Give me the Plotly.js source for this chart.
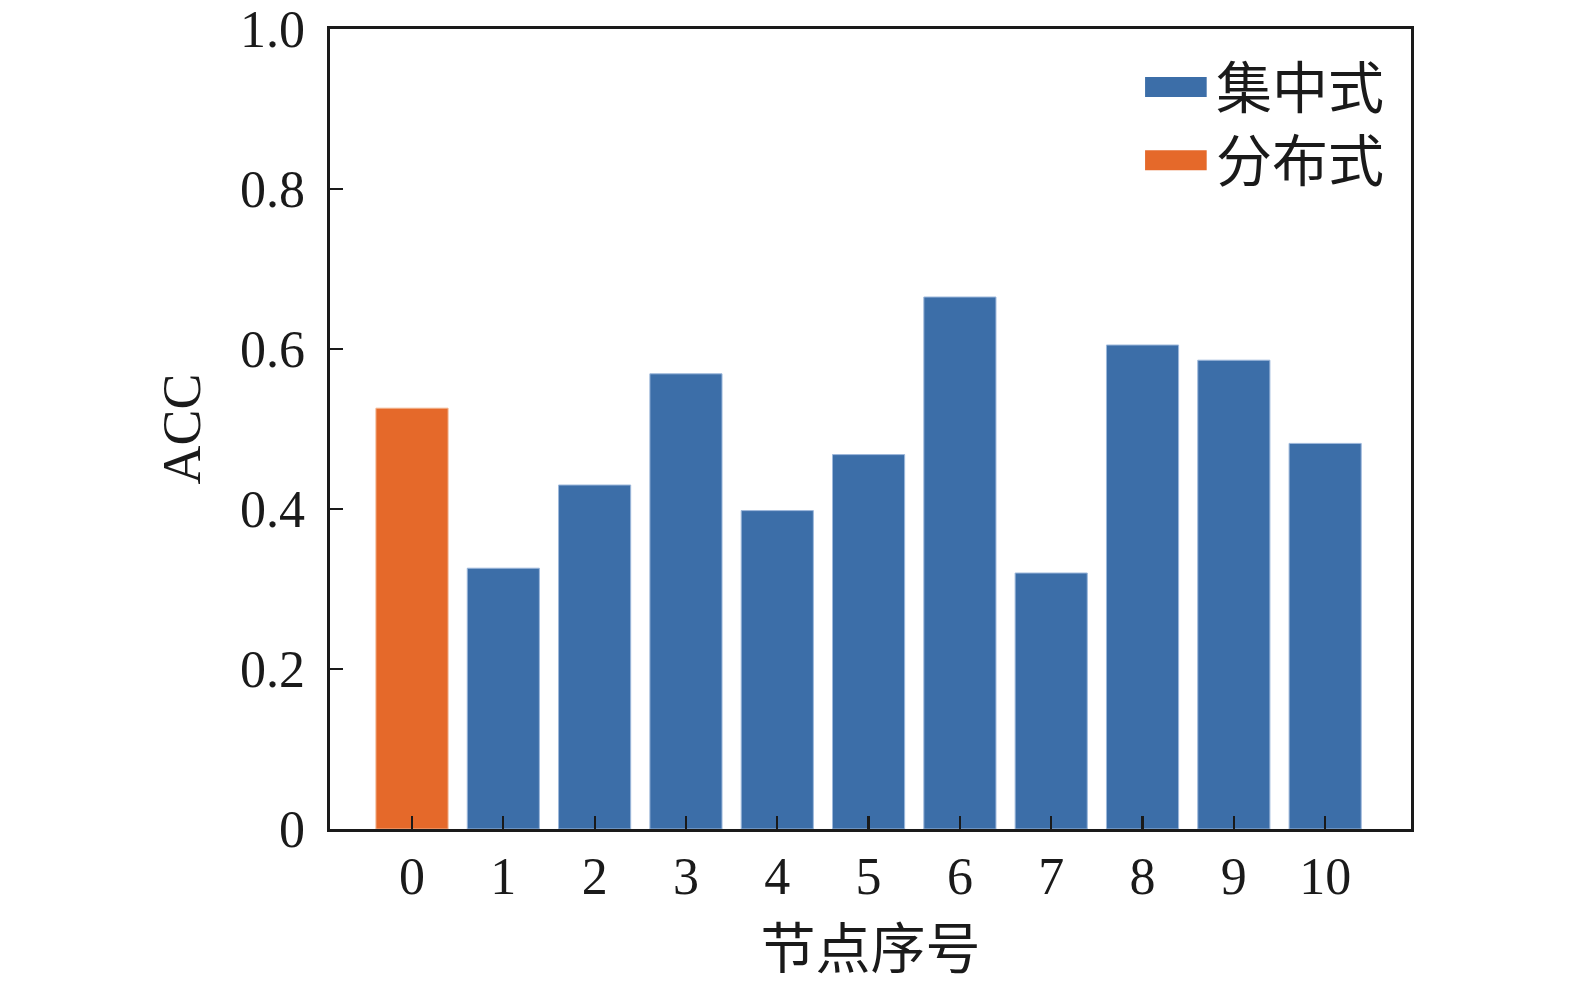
<!DOCTYPE html>
<html>
<head>
<meta charset="utf-8">
<script src="https://cdn.plot.ly/plotly-3.0.1.min.js"></script>
<style>
  body { margin: 0; background: #fff; }
  #chart { width: 1575px; height: 984px; }
</style>
</head>
<body>
<div id="chart"></div>
<script>
// data
var nodes = [0, 1, 2, 3, 4, 5, 6, 7, 8, 9, 10];
var accDistributed = [0.526];
var accCentral = [0.326, 0.430, 0.569, 0.398, 0.468, 0.665, 0.320, 0.605, 0.586, 0.482];
var yTickVals = [0, 0.2, 0.4, 0.6, 0.8, 1.0];
var yTickText = ['0', '0.2', '0.4', '0.6', '0.8', '1.0'];

var blue = '#3c6ea8';
var orange = '#e5692a';
var ink = '#1a1a1a';
var serif = '"Liberation Serif", "Times New Roman", serif';
var cjk = '"Noto Sans CJK SC", sans-serif';

var traces = [
  {
    type: 'bar',
    name: '分布式',
    x: nodes.slice(0, 1),
    y: accDistributed,
    width: 0.79,
    marker: { color: orange, line: { color: '#f2b48f', width: 1 } },
    showlegend: false
  },
  {
    type: 'bar',
    name: '集中式',
    x: nodes.slice(1),
    y: accCentral,
    width: 0.79,
    marker: { color: blue, line: { color: '#9db8db', width: 1 } },
    showlegend: false
  }
];

// legend drawn by hand so the keys are wide rectangles like the original
var legendItems = [
  { label: '集中式', color: blue, y: 0.9275 },
  { label: '分布式', color: orange, y: 0.836 }
];
var shapes = [];
var annotations = [];
legendItems.forEach(function (it) {
  shapes.push({
    type: 'rect', xref: 'paper', yref: 'paper',
    x0: 0.754, x1: 0.811, y0: it.y - 0.0125, y1: it.y + 0.0125,
    fillcolor: it.color, line: { width: 0 }
  });
  annotations.push({
    xref: 'paper', yref: 'paper', x: 0.818, y: it.y, yshift: 4,
    xanchor: 'left', yanchor: 'middle', showarrow: false,
    text: it.label, font: { family: cjk, size: 56, color: ink }
  });
});

var layout = {
  width: 1575,
  height: 984,
  margin: { l: 330, r: 164, t: 29, b: 155 },
  paper_bgcolor: '#fff',
  plot_bgcolor: '#fff',
  barmode: 'overlay',
  font: { family: serif, size: 52, color: ink },
  xaxis: {
    range: [-0.898, 10.94],
    tickvals: nodes,
    ticks: 'inside',
    ticklen: 13,
    tickwidth: 2.2,
    tickcolor: ink,
    showline: true,
    linecolor: ink,
    linewidth: 2.7,
    mirror: true,
    showgrid: false,
    zeroline: false,
    ticklabelstandoff: 0,
    tickfont: { family: serif, size: 52, color: ink },
    title: { text: '节点序号', font: { family: cjk, size: 55, color: ink }, standoff: 20 }
  },
  yaxis: {
    range: [0, 1.0],
    tickvals: yTickVals,
    ticktext: yTickText,
    ticks: 'inside',
    ticklen: 13,
    tickwidth: 2.2,
    tickcolor: ink,
    showline: true,
    linecolor: ink,
    linewidth: 2.7,
    mirror: true,
    showgrid: false,
    zeroline: false,
    ticklabelstandoff: 12,
    tickfont: { family: serif, size: 52, color: ink },
    title: { text: 'ACC', font: { family: serif, size: 54, color: ink }, standoff: 22 }
  },
  shapes: shapes,
  annotations: annotations
};

Plotly.newPlot('chart', traces, layout, { displayModeBar: false, staticPlot: true });
</script>
</body>
</html>
